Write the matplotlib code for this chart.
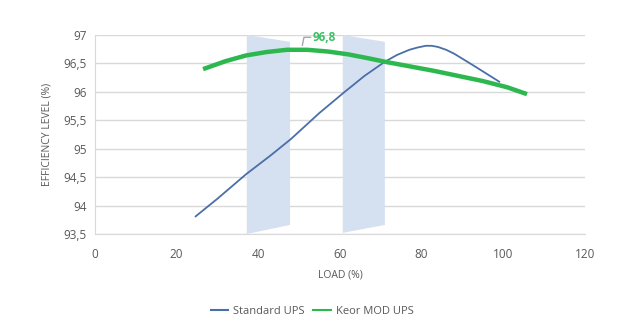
import matplotlib
matplotlib.use("Agg")
import matplotlib.pyplot as plt
from matplotlib.lines import Line2D

# values
std_load = [24.5, 30, 37, 43, 48, 55, 61, 66, 71, 74, 77, 79, 81, 82.5, 84, 86, 88, 93, 99.2]
std_eff = [93.8, 94.12, 94.55, 94.88, 95.17, 95.63, 95.99, 96.28, 96.53, 96.65, 96.74, 96.78, 96.81, 96.81, 96.79, 96.74, 96.67, 96.45, 96.17]

keor_load = [26.5, 32, 37, 42, 47, 52, 57, 62, 67, 71, 77, 83, 89, 95, 101, 105.8]
keor_eff = [96.40, 96.54, 96.64, 96.70, 96.74, 96.74, 96.71, 96.66, 96.59, 96.53, 96.45, 96.37, 96.28, 96.19, 96.08, 95.96]

# shaded bands: (x left, x right, top left, top right, bottom left, bottom right)
bands = [
    (37.2, 47.8, 97.0, 96.88, 93.5, 93.66),
    (60.7, 71.0, 97.0, 96.88, 93.52, 93.66),
]

peak_label = "96,8"
yticks = [93.5, 94, 94.5, 95, 95.5, 96, 96.5, 97]
xticks = [0, 20, 40, 60, 80, 100, 120]

gray = "#595959"
blue = "#4a6fa8"
green = "#2db84f"

plt.rcParams['font.family'] = ['Open Sans', 'DejaVu Sans']

fig = plt.figure(figsize=(6.24, 3.35), dpi=100)
ax = fig.add_axes([0.152, 0.3015, 0.7855, 0.594])

for x0, x1, t0, t1, b0, b1 in bands:
    ax.fill([x0, x1, x1, x0], [t0, t1, b1, b0], color="#d5e0f0", lw=0, zorder=1)

ax.plot(std_load, std_eff, color=blue, lw=1.3, zorder=3, solid_capstyle="butt")
ax.plot(keor_load, keor_eff, color=green, lw=3.2, zorder=4, solid_capstyle="butt")

# data label with a small leader
ax.plot([50.8, 51.2, 52.8], [96.82, 96.96, 96.96], color="#a6a6a6", lw=1.0, zorder=5)
ax.text(53.3, 96.96, peak_label, color="#3cc064", fontsize=8.5, fontweight="bold",
        va="center", ha="left", zorder=5)

ax.set_xlim(0, 120)
ax.set_ylim(93.5, 97)
ax.set_xticks(xticks)
ax.set_yticks(yticks)
ax.set_yticklabels([f"{v:g}".replace(".", ",") for v in yticks])
ax.tick_params(axis="both", length=0, labelsize=8.5, colors=gray, pad=10)
ax.tick_params(axis="y", pad=6)

ax.grid(axis="y", color="#d9d9d9", lw=1.0)
ax.set_axisbelow(True)
for s in ["top", "right"]:
    ax.spines[s].set_visible(False)
ax.spines["left"].set_color("#d9d9d9")
ax.spines["bottom"].set_color("#d9d9d9")

ax.set_xlabel("LOAD (%)", fontsize=7.5, color=gray, labelpad=6)
ax.set_ylabel("EFFICIENCY LEVEL (%)", fontsize=7.5, color=gray, labelpad=8)

handles = [Line2D([0], [0], color=blue, lw=1.5), Line2D([0], [0], color=green, lw=1.5)]
fig.legend(handles, ["Standard UPS", "Keor MOD UPS"], loc="center", bbox_to_anchor=(0.5, 0.07),
           ncol=2, frameon=False, fontsize=8, labelcolor=gray, handlelength=1.6,
           handletextpad=0.4, columnspacing=0.8)

fig.savefig("out.png", dpi=100)
